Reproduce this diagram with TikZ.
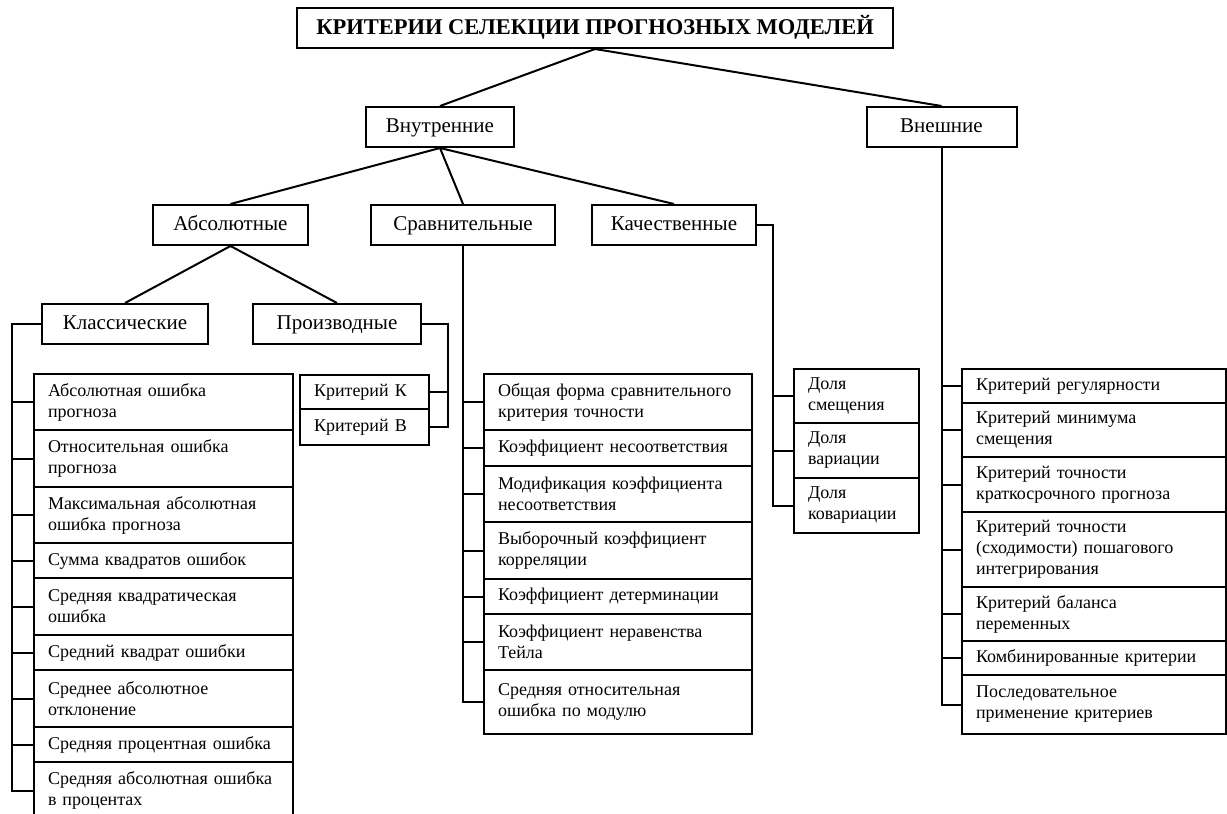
\documentclass[tikz,border=0pt]{standalone}
\usepackage{fontspec}
\setmainfont{Liberation Serif}
\usepackage{tikz}
\usetikzlibrary{positioning,calc}

\begin{document}
\begin{tikzpicture}[x=1pt,y=-1pt,
  box/.style={draw,line width=2pt,inner sep=0pt,align=center},
  head/.style={box,minimum height=40pt,text height=14pt,text depth=4pt,font=\fontsize{21}{24}\selectfont},
  item/.style={box,anchor=north west,align=left,inner xsep=14pt,font=\fontsize{18}{21}\selectfont},
  link/.style={line width=2pt}]
  \clip (0,0) rectangle (1227,814);
  \fill[white] (0,0) rectangle (1227,814);
  % levels
  \node[box,minimum width=596pt,minimum height=40pt,text height=16pt,text depth=4pt,font=\bfseries\fontsize{22.5}{26}\selectfont] (title) at (595,28) {КРИТЕРИИ СЕЛЕКЦИИ ПРОГНОЗНЫХ МОДЕЛЕЙ};
  \node[head,minimum width=148pt] (inn) at (440,127) {Внутренние};
  \node[head,minimum width=150pt] (ext) at (941.5,127) {Внешние};
  \node[head,minimum width=155pt] (abs) at (230.5,225) {Абсолютные};
  \node[head,minimum width=184pt] (srv) at (463,225) {Сравнительные};
  \node[head,minimum width=164pt] (kach) at (674,225) {Качественные};
  \node[head,minimum width=166pt] (cls) at (125,324) {Классические};
  \node[head,minimum width=168pt] (pro) at (337,324) {Производные};
  \draw[link] (title.south) -- (inn.north);
  \draw[link] (title.south) -- (ext.north);
  \draw[link] (inn.south) -- (abs.north);
  \draw[link] (inn.south) -- (srv.north);
  \draw[link] (inn.south) -- (kach.north);
  \draw[link] (abs.south) -- (cls.north);
  \draw[link] (abs.south) -- (pro.north);
  % classic
  \node[item,text width=231pt,minimum height=56pt] (cl1) at (33,373) {Абсолютная ошибка\\прогноза};
  \node[item,text width=231pt,minimum height=57pt] (cl2) at (33,429) {Относительная ошибка\\прогноза};
  \node[item,text width=231pt,minimum height=56pt] (cl3) at (33,486) {Максимальная абсолютная\\ошибка прогноза};
  \node[item,text width=231pt,minimum height=35pt] (cl4) at (33,542) {Сумма квадратов ошибок};
  \node[item,text width=231pt,minimum height=57pt] (cl5) at (33,577) {Средняя квадратическая\\ошибка};
  \node[item,text width=231pt,minimum height=35pt] (cl6) at (33,634) {Средний квадрат ошибки};
  \node[item,text width=231pt,minimum height=57pt] (cl7) at (33,669) {Среднее абсолютное\\отклонение};
  \node[item,text width=231pt,minimum height=35pt] (cl8) at (33,726) {Средняя процентная ошибка};
  \node[item,text width=231pt,minimum height=57pt] (cl9) at (33,761) {Средняя абсолютная ошибка\\в процентах};
  \coordinate (clbus) at (12,324);
  \draw[link] (cls.west) -- (clbus) |- (cl9.west);
  \draw[link] (clbus |- cl1.west) -- (cl1.west) (clbus |- cl2.west) -- (cl2.west)
    (clbus |- cl3.west) -- (cl3.west) (clbus |- cl4.west) -- (cl4.west)
    (clbus |- cl5.west) -- (cl5.west) (clbus |- cl6.west) -- (cl6.west)
    (clbus |- cl7.west) -- (cl7.west) (clbus |- cl8.west) -- (cl8.west);
  % derived
  \node[item,text width=101pt,minimum height=34pt] (pr1) at (299,374) {Критерий К};
  \node[item,text width=101pt,minimum height=36pt] (pr2) at (299,408) {Критерий В};
  \coordinate (prbus) at (448,324);
  \draw[link] (pro.east) -- (prbus) |- (pr2.east);
  \draw[link] (prbus |- pr1.east) -- (pr1.east);
  % comparative
  \node[item,text width=240pt,minimum height=56pt] (sr1) at (483,373) {Общая форма сравнительного\\критерия точности};
  \node[item,text width=240pt,minimum height=36pt] (sr2) at (483,429) {Коэффициент несоответствия};
  \node[item,text width=240pt,minimum height=56pt] (sr3) at (483,465) {Модификация коэффициента\\несоответствия};
  \node[item,text width=240pt,minimum height=57pt] (sr4) at (483,521) {Выборочный коэффициент\\корреляции};
  \node[item,text width=240pt,minimum height=35pt] (sr5) at (483,578) {Коэффициент детерминации};
  \node[item,text width=240pt,minimum height=56pt] (sr6) at (483,613) {Коэффициент неравенства\\Тейла};
  \node[item,text width=240pt,minimum height=64pt] (sr7) at (483,669) {Средняя относительная\\ошибка по модулю};
  \draw[link] (srv.south) |- (sr7.west);
  \draw[link] (srv.south |- sr1.west) -- (sr1.west) (srv.south |- sr2.west) -- (sr2.west)
    (srv.south |- sr3.west) -- (sr3.west) (srv.south |- sr4.west) -- (sr4.west)
    (srv.south |- sr5.west) -- (sr5.west) (srv.south |- sr6.west) -- (sr6.west);
  % qualitative
  \node[item,text width=97pt,minimum height=54pt] (kc1) at (793,368) {Доля\\смещения};
  \node[item,text width=97pt,minimum height=55pt] (kc2) at (793,422) {Доля\\вариации};
  \node[item,text width=97pt,minimum height=55pt] (kc3) at (793,477) {Доля\\ковариации};
  \coordinate (kcbus) at (773,225);
  \draw[link] (kach.east) -- (kcbus) |- (kc3.west);
  \draw[link] (kcbus |- kc1.west) -- (kc1.west) (kcbus |- kc2.west) -- (kc2.west);
  % external
  \node[item,text width=236pt,minimum height=34pt] (ex1) at (961,368) {Критерий регулярности};
  \node[item,text width=236pt,minimum height=54pt] (ex2) at (961,402) {Критерий минимума\\смещения};
  \node[item,text width=236pt,minimum height=55pt] (ex3) at (961,456) {Критерий точности\\краткосрочного прогноза};
  \node[item,text width=236pt,minimum height=75pt] (ex4) at (961,511) {Критерий точности\\(сходимости) пошагового\\интегрирования};
  \node[item,text width=236pt,minimum height=54pt] (ex5) at (961,586) {Критерий баланса\\переменных};
  \node[item,text width=236pt,minimum height=34pt] (ex6) at (961,640) {Комбинированные критерии};
  \node[item,text width=236pt,minimum height=59pt] (ex7) at (961,674) {Последовательное\\применение критериев};
  \draw[link] (ext.south) |- (ex7.west);
  \draw[link] (ext.south |- ex1.west) -- (ex1.west) (ext.south |- ex2.west) -- (ex2.west)
    (ext.south |- ex3.west) -- (ex3.west) (ext.south |- ex4.west) -- (ex4.west)
    (ext.south |- ex5.west) -- (ex5.west) (ext.south |- ex6.west) -- (ex6.west);
\end{tikzpicture}
\end{document}
